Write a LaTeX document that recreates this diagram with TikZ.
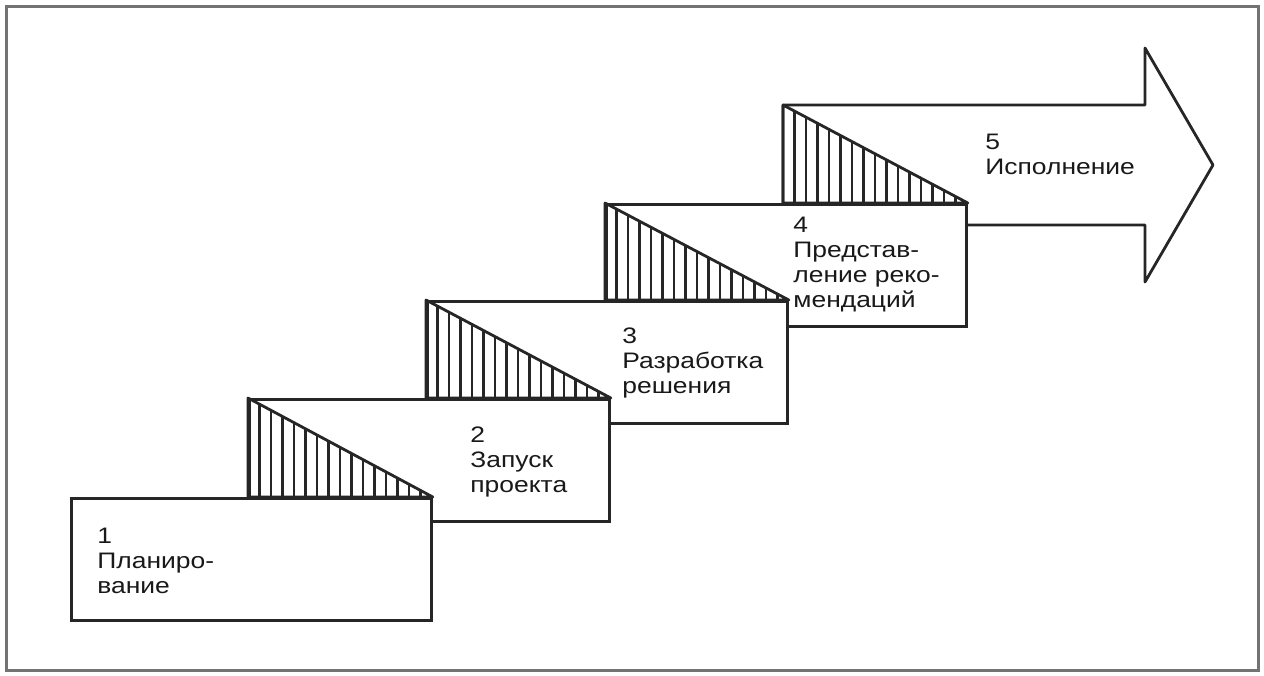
\documentclass[tikz,border=0pt]{standalone}
\usepackage{fontspec}
\setmainfont[FakeStretch=1.18]{Liberation Sans}
\usetikzlibrary{calc}
\tikzset{
  frame/.style      = {draw=black!55, line width=1.5pt},
  stepbox/.style    = {draw=black!85, fill=white, line width=1.4pt,
                       minimum width=180pt, minimum height=61pt,
                       anchor=north west, inner sep=0pt},
  stepline/.style   = {draw=black!85, line width=1.4pt, line join=round},
  hatchline/.style  = {draw=black!85, line width=1.1pt},
  steplabel/.style  = {anchor=north west, inner sep=0pt, align=left,
                       font=\fontsize{11.2}{12.5}\selectfont, text=black!90}
}
\begin{document}
\begin{tikzpicture}[x=0.5pt, y=-0.5pt]

  % Page frame (units are pixels of the 1264x675 sheet).
  \useasboundingbox (0,0) rectangle (1264,675);
  \draw[frame] (6,6) rectangle (1258,670);

  % Big arrow of step 5, drawn first so that box 4 covers its tail.
  \coordinate (arrow) at (783,105);
  \draw[stepline, fill=white] (arrow) -- (1145,105) -- (1145,48)
    -- (1213,165) -- (1145,282) -- (1145,225) -- (783,225) -- cycle;

  % Stair boxes, back to front.
  \node[stepbox] (box4) at (605,203) {};
  \node[stepbox] (box3) at (426,300) {};
  \node[stepbox] (box2) at (248,398) {};
  \node[stepbox] (box1) at (70,497)  {};

  % Hatched riser between each pair of steps.
  \foreach \lo/\hi in {box1/box2, box2/box3, box3/box4} {
    \begin{scope}
      \clip (\hi.north west) -- (\hi.west |- \lo.north) -- (\lo.north east) -- cycle;
      \foreach \i in {1,...,16}
        \draw[hatchline] ([xshift=\i*5.75pt]\hi.north west) -- ++(0,110);
    \end{scope}
    \draw[stepline] (\hi.north west) -- (\hi.west |- \lo.north) -- (\lo.north east) -- cycle;
  }
  \begin{scope}
    \clip (arrow) -- (arrow |- box4.north) -- (box4.north east) -- cycle;
    \foreach \i in {1,...,16}
      \draw[hatchline] ([xshift=\i*5.75pt]arrow) -- ++(0,110);
  \end{scope}
  \draw[stepline] (arrow) -- (arrow |- box4.north) -- (box4.north east) -- cycle;

  % Step labels.
  \node[steplabel] (lab1) at (97,528)  {1\\Планиро-\\вание};
  \node[steplabel] (lab2) at (470,426) {2\\Запуск\\проекта};
  \node[steplabel] (lab3) at (622,327) {3\\Разработка\\решения};
  \node[steplabel] (lab4) at (793,217) {4\\Представ-\\ление реко-\\мендаций};
  \node[steplabel] (lab5) at (985,134) {5\\Исполнение};

\end{tikzpicture}
\end{document}
